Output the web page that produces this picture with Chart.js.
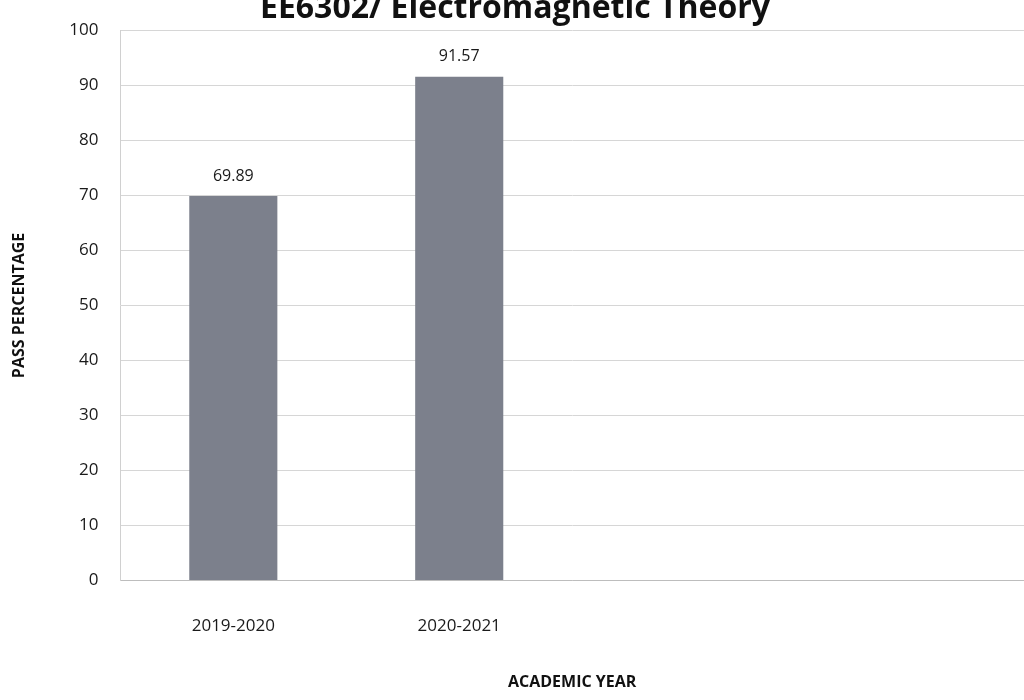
<!DOCTYPE html>
<html>
<head>
<meta charset="utf-8">
<script src="https://cdn.jsdelivr.net/npm/chart.js@4/dist/chart.umd.min.js"></script>
<style>
  html, body { margin: 0; padding: 0; background: #ffffff; overflow: hidden; }
  #wrap { position: absolute; left: 0; top: -12px; width: 1024px; height: 712px; }
</style>
</head>
<body>
<div id="wrap"><canvas id="c"></canvas></div>
<script>
const chartTitle = "EE6302/ Electromagnetic Theory";
const categories = ["2019-2020", "2020-2021", "", ""];
const passPercentage = [69.89, 91.57, null, null];
const yTicks = [0, 10, 20, 30, 40, 50, 60, 70, 80, 90, 100];
const xAxisTitle = "ACADEMIC YEAR";
const yAxisTitle = "PASS PERCENTAGE";

const FONT = "'Open Sans', 'Liberation Sans', sans-serif";

const valueLabels = {
  id: 'valueLabels',
  afterDatasetsDraw(chart) {
    const ctx = chart.ctx;
    const meta = chart.getDatasetMeta(0);
    ctx.save();
    ctx.font = "16px " + FONT;
    ctx.fillStyle = "#1a1a1a";
    ctx.textAlign = "center";
    ctx.textBaseline = "bottom";
    meta.data.forEach((bar, i) => {
      const v = passPercentage[i];
      if (v == null) return;
      ctx.fillText(v.toFixed(2), bar.x, bar.y - 12);
    });
    ctx.restore();
  }
};

new Chart(document.getElementById('c'), {
  type: 'bar',
  data: {
    labels: categories,
    datasets: [{
      data: passPercentage,
      backgroundColor: '#7c808c',
      borderWidth: 0,
      barPercentage: 0.39,
      categoryPercentage: 1.0
    }]
  },
  options: {
    responsive: true,
    maintainAspectRatio: false,
    animation: false,
    layout: { padding: { left: 6, right: 0, top: 0, bottom: 4 } },
    plugins: {
      legend: { display: false },
      tooltip: { enabled: false },
      title: {
        display: true,
        text: chartTitle,
        color: '#111111',
        font: { family: FONT, size: 32, weight: 'bold' },
        padding: { top: 2, bottom: 2 }
      }
    },
    scales: {
      x: {
        grid: { display: false, drawTicks: false },
        border: { color: '#bdbdbd' },
        ticks: { color: '#1a1a1a', font: { family: FONT, size: 17 }, padding: 36 },
        title: {
          display: true, text: xAxisTitle, color: '#111111',
          font: { family: FONT, size: 16, weight: 'bold' },
          padding: { top: 0 }
        }
      },
      y: {
        min: 0, max: 100,
        afterBuildTicks(axis) { axis.ticks = yTicks.map(v => ({ value: v })); },
        grid: { color: '#d6d6d6', drawTicks: false },
        border: { color: '#d0d0d0' },
        ticks: { color: '#1a1a1a', font: { family: FONT, size: 17 }, padding: 22 },
        title: {
          display: true, text: yAxisTitle, color: '#111111',
          font: { family: FONT, size: 16, weight: 'bold' },
          padding: { bottom: 18 }
        }
      }
    }
  },
  plugins: [valueLabels]
});
</script>
</body>
</html>
